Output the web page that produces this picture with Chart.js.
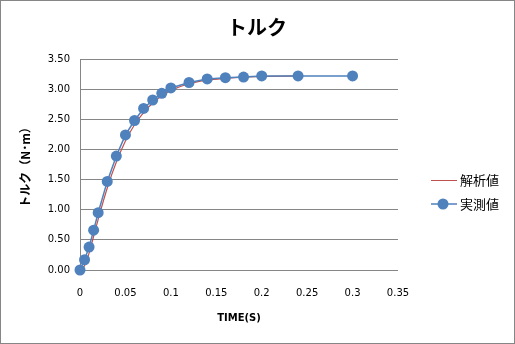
<!DOCTYPE html>
<html><head><meta charset="utf-8">
<script src="https://cdn.jsdelivr.net/npm/chart.js@4/dist/chart.umd.min.js"></script>
<style>html,body{margin:0;padding:0;background:#fff}#wrap{width:515px;height:344px;position:relative}</style>
</head><body><div id="wrap"><canvas id="c" width="515" height="344"></canvas></div>
<script>
const chartTitle = 'トルク';
const xTitle = 'TIME(S)';
const yTitle = 'トルク（N･m）';
const seriesNames = ['解析値', '実測値'];
const timeAnalytic = [0, 0.005, 0.01, 0.015, 0.02, 0.03, 0.04, 0.05, 0.06, 0.07, 0.08, 0.09, 0.1, 0.12, 0.14, 0.16, 0.18, 0.2, 0.24];
const torqueAnalytic = [0, 0.07, 0.28, 0.56, 0.84, 1.36, 1.79, 2.14, 2.41, 2.61, 2.77, 2.89, 2.98, 3.09, 3.15, 3.18, 3.20, 3.21, 3.22];
const timeMeasured = [0, 0.005, 0.01, 0.015, 0.02, 0.03, 0.04, 0.05, 0.06, 0.07, 0.08, 0.09, 0.1, 0.12, 0.14, 0.16, 0.18, 0.2, 0.24, 0.3];
const torqueMeasured = [0, 0.17, 0.38, 0.66, 0.95, 1.47, 1.89, 2.24, 2.48, 2.68, 2.82, 2.93, 3.02, 3.11, 3.17, 3.19, 3.20, 3.22, 3.22, 3.22];
const xMin = 0, xMax = 0.35, xStep = 0.05;
const yMin = 0, yMax = 3.5, yStep = 0.5;

const RED = '#C0504D', BLUE = '#4F81BD';
const pts = (xs, ys) => xs.map((x, i) => ({x: x, y: ys[i]}));

const decorPlugin = {
  id: 'decor',
  afterDraw(chart) {
    const ctx = chart.ctx;
    ctx.save();
    ctx.strokeStyle = '#868686';
    ctx.lineWidth = 1;
    ctx.strokeRect(0.5, 0.5, 514, 343);
    // title
    ctx.fillStyle = '#000';
    ctx.textAlign = 'center';
    ctx.textBaseline = 'middle';
    ctx.font = 'bold 20px "Noto Sans CJK JP"';
    ctx.fillText(chartTitle, 257, 27);
    // legend
    ctx.textAlign = 'left';
    ctx.font = '13px "Noto Sans CJK JP"';
    ctx.strokeStyle = RED; ctx.lineWidth = 1;
    ctx.beginPath(); ctx.moveTo(431, 180.5); ctx.lineTo(457, 180.5); ctx.stroke();
    ctx.fillText(seriesNames[0], 460, 180);
    ctx.strokeStyle = BLUE; ctx.lineWidth = 1.5;
    ctx.beginPath(); ctx.moveTo(431, 204); ctx.lineTo(457, 204); ctx.stroke();
    ctx.fillStyle = BLUE;
    ctx.beginPath(); ctx.arc(443, 204, 5.5, 0, Math.PI * 2); ctx.fill();
    ctx.fillStyle = '#000';
    ctx.fillText(seriesNames[1], 460, 204);
    ctx.restore();
  }
};

new Chart(document.getElementById('c'), {
  type: 'scatter',
  data: {
    datasets: [
      {label: seriesNames[0], data: pts(timeAnalytic, torqueAnalytic), showLine: true, borderColor: RED, borderWidth: 1.2, pointRadius: 0, cubicInterpolationMode: 'monotone', order: 1, clip: false},
      {label: seriesNames[1], data: pts(timeMeasured, torqueMeasured), showLine: true, borderColor: BLUE, backgroundColor: BLUE, borderWidth: 1.5, pointRadius: 5.5, pointBorderWidth: 0, pointBackgroundColor: BLUE, order: 0, clip: false}
    ]
  },
  options: {
    responsive: false, animation: false, devicePixelRatio: 1,
    layout: {padding: {left: 0, right: 117, top: 59, bottom: 0}},
    plugins: {legend: {display: false}, tooltip: {enabled: false}, title: {display: false}},
    scales: {
      x: {
        type: 'linear', min: xMin, max: xMax,
        afterFit(s) { s.height = 74; },
        grid: {display: false, drawTicks: false},
        border: {display: false},
        ticks: {stepSize: xStep, padding: 17, color: '#000', font: {family: '"DejaVu Sans"', size: 10}, callback: v => String(+v.toFixed(2))},
        title: {display: true, text: xTitle, color: '#000', font: {family: '"DejaVu Sans"', size: 10, weight: 'bold', lineHeight: 1.2}, padding: {top: 0, bottom: 20}}
      },
      y: {
        type: 'linear', min: yMin, max: yMax,
        afterFit(s) { s.width = 80; },
        grid: {color: '#868686', lineWidth: 1, drawTicks: false},
        border: {display: true, color: '#868686', width: 1},
        ticks: {stepSize: yStep, padding: 10, color: '#000', font: {family: '"DejaVu Sans"', size: 10}, callback: v => v.toFixed(2)},
        title: {display: true, text: yTitle, color: '#000', font: {family: '"Noto Sans CJK JP"', size: 12, weight: 'bold', lineHeight: 1.2}, padding: {top: 18, bottom: 0}}
      }
    }
  },
  plugins: [decorPlugin]
});
</script></body></html>
